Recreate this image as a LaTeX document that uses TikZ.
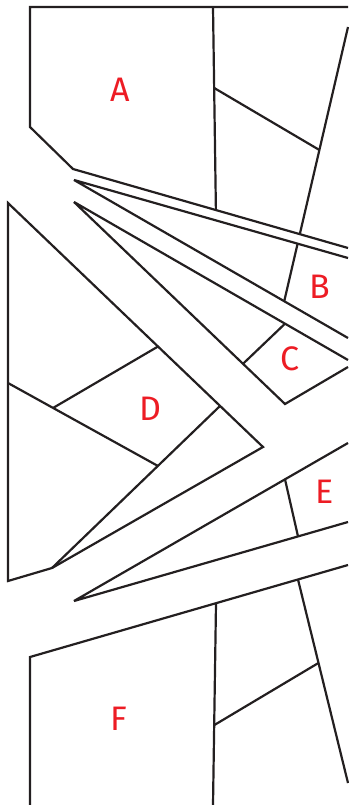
\documentclass[tikz,border=0pt]{standalone}
\usepackage{fontspec}
\setsansfont{Fira Sans}
\definecolor{wallc}{RGB}{35,31,32}
\definecolor{labelred}{RGB}{237,28,36}
\begin{document}
\begin{tikzpicture}[x=1pt,y=-1pt,
  wall/.style={line width=2.2pt, draw=wallc, line join=miter, miter limit=3},
  lbl/.style={text=labelred, font=\sffamily\fontsize{34}{34}\selectfont, inner sep=0pt}]
\useasboundingbox (0,0) rectangle (348,805);
% top area
\coordinate (tl) at (30,7);
\coordinate (tr) at (348,7);
\coordinate (a1) at (30,127);
\coordinate (a2) at (73,169);
\coordinate (a3) at (348,248);
\coordinate (v1t) at (213,7);
\coordinate (v1x) at (216.2,230);
\coordinate (v1b) at (intersection of v1t--v1x and a2--a3);
\coordinate (i1) at (214.2,88);
\coordinate (i2) at (319.4,150);
% fans
\coordinate (f1) at (74,180);
\coordinate (l2e) at (348,258);
\coordinate (l3e) at (348,338);
\coordinate (f2) at (74,202);
\coordinate (l4e) at (348,360);
\coordinate (c1) at (285,404);
\coordinate (c2) at (348,367);
\coordinate (cA) at (285,323.7);
\coordinate (cB) at (243,363.8);
% B diagonal
\coordinate (bP) at (348,27);
\coordinate (bQ) at (284,302);
\coordinate (bA) at (intersection of bP--bQ and a2--a3);
\coordinate (bL2) at (intersection of bP--bQ and f1--l2e);
\coordinate (bL3) at (intersection of bP--bQ and f1--l3e);
% left triangle
\coordinate (t1) at (8,203);
\coordinate (t2) at (263,447);
\coordinate (t3) at (52,568);
\coordinate (t4) at (8,581);
\coordinate (d1) at (220,406);
\coordinate (d2) at (8,383);
\coordinate (d3) at (158,466);
\coordinate (d4) at (53,408);
\coordinate (d5) at (158,346.5);
% bottom fan
\coordinate (g) at (74,601);
\coordinate (e1) at (348,443);
\coordinate (e2) at (348,522);
\coordinate (eA) at (285,479.3);
\coordinate (eB) at (298,536.4);
% F area
\coordinate (fb) at (30,805);
\coordinate (ft) at (30,657);
\coordinate (fr) at (348,565);
\coordinate (w1) at (216,603.2);
\coordinate (w2) at (213,805);
\coordinate (j1) at (214.4,725);
\coordinate (j2) at (318.4,663);
\coordinate (k1) at (298,579.5);
\coordinate (k2) at (348,783);

\draw[wall] (a3) -- (a2) -- (a1) -- (tl) -- (tr);
\draw[wall] (v1t) -- (v1b);
\draw[wall] (i1) -- (i2);
\draw[wall] (bP) -- (bA);
\draw[wall] (bL2) -- (bL3);
\draw[wall] (l2e) -- (f1) -- (l3e);
\draw[wall] (l4e) -- (f2) -- (c1) -- (c2);
\draw[wall] (cA) -- (cB);
\draw[wall] (t1) -- (t2) -- (t3) -- (t4) -- cycle;
\draw[wall] (t3) -- (d1);
\draw[wall] (d2) -- (d3);
\draw[wall] (d4) -- (d5);
\draw[wall] (e1) -- (g) -- (e2);
\draw[wall] (eA) -- (eB);
\draw[wall] (fb) -- (ft) -- (fr);
\draw[wall] (w1) -- (w2);
\draw[wall] (j1) -- (j2);
\draw[wall] (k1) -- (k2);

\node[lbl] (lA) at (120,90) {A};
\node[lbl] (lB) at (320,287) {B};
\node[lbl] (lC) at (290,359) {C};
\node[lbl] (lD) at (150,409) {D};
\node[lbl] (lE) at (325,492) {E};
\node[lbl] (lF) at (119,719) {F};
\end{tikzpicture}
\end{document}
